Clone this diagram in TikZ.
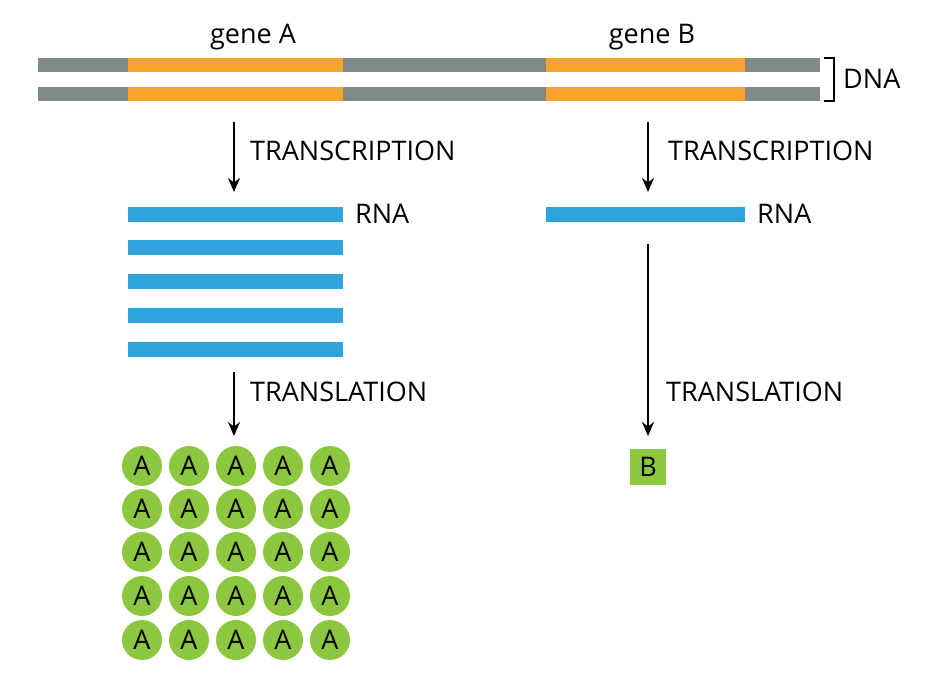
\documentclass[tikz,border=0pt]{standalone}
\usepackage{fontspec}
\setmainfont{Open Sans}
\usetikzlibrary{arrows.meta}
\definecolor{dgray}{HTML}{808A87}
\definecolor{gorange}{HTML}{F7A42C}
\definecolor{rblue}{HTML}{2FA3DC}
\definecolor{pgreen}{HTML}{8DC63F}
\begin{document}
\begin{tikzpicture}[x=1pt,y=-1pt,
  fnt/.style={font=\fontsize{27}{30}\selectfont},
  lbl/.style={fnt, anchor=west, inner sep=0},
  arr/.style={line width=2.6pt,-{Stealth[length=14pt,width=12pt]}},
  prot/.style={circle, fill=pgreen, minimum size=40pt, inner sep=0, fnt},
  rna/.style={fill=rblue}]
\useasboundingbox (0,0) rectangle (945,678);
% DNA
\foreach \y in {58,87}{
  \fill[dgray] (38,\y) rectangle (820,\y+14);
  \fill[gorange] (128,\y) rectangle (343,\y+14);
  \fill[gorange] (546,\y) rectangle (745,\y+14);
}
\draw[line width=1.4pt] (824,58) -- (834,58) -- (834,101) -- (824,101);
\node[lbl] (dna) at (843,79) {DNA};
\node[fnt] (ga) at (253,37) {gene A};
\node[fnt] (gb) at (652,37) {gene B};
% transcription
\coordinate (a1) at (234,122); \coordinate (a2) at (234,192);
\coordinate (b1) at (648,122); \coordinate (b2) at (648,192);
\draw[arr] (a1) -- (a2);
\draw[arr] (b1) -- (b2);
\node[lbl] (ta) at (250,151) {TRANSCRIPTION};
\node[lbl] (tb) at (668,151) {TRANSCRIPTION};
% RNA
\foreach \y in {207,240,274,308,342} \fill[rna] (128,\y) rectangle (343,\y+15);
\fill[rna] (546,207) rectangle (745,222);
\node[lbl] (ra) at (355,214) {RNA};
\node[lbl] (rb) at (757,214) {RNA};
% translation
\coordinate (c1) at (234,372); \coordinate (c2) at (234,436);
\coordinate (d1) at (648,244); \coordinate (d2) at (648,436);
\draw[arr] (c1) -- (c2);
\draw[arr] (d1) -- (d2);
\node[lbl] (la) at (250,392) {TRANSLATION};
\node[lbl] (lb) at (666,392) {TRANSLATION};
% proteins
\foreach \i/\x in {1/142,2/189,3/236,4/283,5/330}
  \foreach \j/\y in {1/466,2/509,3/552,4/596,5/640}
    \node[prot] (p\i\j) at (\x,\y) {A};
\node[fill=pgreen, minimum size=36pt, inner sep=0, fnt] (pb) at (648,467) {B};
\end{tikzpicture}
\end{document}
